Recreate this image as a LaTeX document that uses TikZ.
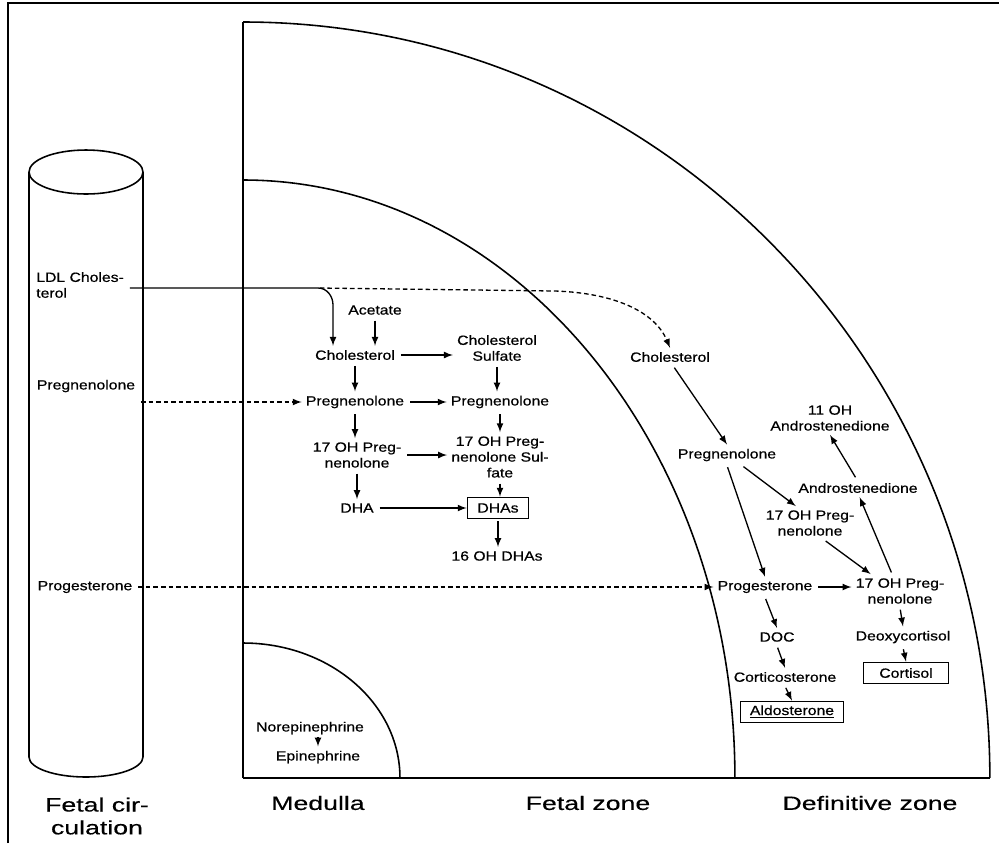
\documentclass[tikz,border=0pt]{standalone}
\usepackage{fontspec}
\setmainfont{Liberation Sans}
\newfontfamily\lblfont[FakeStretch=1.18,FakeBold=0.6]{Liberation Sans}
\newfontfamily\zonefont[FakeStretch=1.38,FakeBold=0.4]{Liberation Sans}
\usetikzlibrary{arrows}

\tikzset{
  lbl/.style={font=\lblfont\fontsize{7.6}{9}\selectfont, align=center, inner sep=2pt},
  prod/.style={lbl, draw, line width=1pt, minimum height=0.42cm},
  zone/.style={font=\zonefont\fontsize{11}{13}\selectfont, align=center},
  arr/.style={->, >=latex, line width=0.75pt, shorten <=1pt},
  darr/.style={arr, dash pattern=on 2.6pt off 1.7pt},
}

\begin{document}
\begin{tikzpicture}[x=0.02cm, y=-0.02cm, line width=0.9pt]
          \useasboundingbox (0,0) rectangle (999,843);
          \draw[line width=1.2pt] (8,843) -- (8,3) -- (999,3);
          % fetal circulation
          \draw (86,172) ellipse [x radius=1.14cm, y radius=0.44cm];
          \draw (29,172) -- (29,757) arc [start angle=180, end angle=360, x radius=1.14cm, y radius=0.4cm] -- (143,172);
          % adrenal zones
          \draw[line width=1.7pt] (243,22) -- (243,778);
          \draw (243,778) -- (990,778);
          \draw (243,22) arc [start angle=90, end angle=0, x radius=14.94cm, y radius=15.12cm];
          \draw (243,180) arc [start angle=90, end angle=0, x radius=9.84cm, y radius=11.96cm];
          \draw (243,643) arc [start angle=90, end angle=0, x radius=3.14cm, y radius=2.7cm];
          \node[zone] (fcirc) at (97,816) {Fetal cir-\\culation};
          \node[zone] (medl)  at (318,803) {Medulla};
          \node[zone] (fzone) at (588,803) {Fetal zone};
          \node[zone] (dzone) at (870,803) {Definitive zone};
          % circulation
          \node[lbl, anchor=west, align=left] (ldl) at (32,285) {LDL Choles-\\terol};
          \node[lbl] (pregC) at (86,386) {Pregnenolone};
          \node[lbl] (progC) at (85,587) {Progesterone};
          % medulla
          \node[lbl] (norepi) at (310,728) {Norepinephrine};
          \node[lbl] (epi)    at (318,757) {Epinephrine};
          \draw[arr] (norepi.south -| epi) -- (epi.north);
          % fetal zone
          \node[lbl] (acet)  at (375,310) {Acetate};
          \node[lbl] (cholF) at (355,355) {Cholesterol};
          \node[lbl] (cholS) at (497,348) {Cholesterol\\Sulfate};
          \node[lbl] (pregF) at (355,402) {Pregnenolone};
          \node[lbl] (pregS) at (500,402) {Pregnenolone};
          \node[lbl] (ohF)   at (357,455) {17 OH Preg-\\nenolone};
          \node[lbl] (ohS)   at (500,457) {17 OH Preg-\\nenolone Sul-\\fate};
          \node[lbl] (dha)   at (357,508) {DHA};
          \node[prod, minimum width=1.22cm] (dhas) at (498,508) {DHAs};
          \node[lbl] (oh16)  at (497,556) {16 OH DHAs};
          \draw[arr] (acet) -- (acet |- cholF.north);
          \draw[arr] (cholF) -- (pregF);
          \draw[arr] (cholF.east) -- (cholS.west |- cholF.east);
          \draw[arr] (cholS) -- (cholS |- pregS.north);
          \draw[arr] (pregF) -- (pregS);
          \draw[arr] (pregF) -- (pregF |- ohF.north);
          \draw[arr] (pregS.south -| ohS) -- (ohS);
          \draw[arr] (ohF.east) -- (ohS.west |- ohF.east);
          \draw[arr] (ohF) -- (ohF |- dha.north);
          \draw[arr] (ohS) -- (ohS |- dhas.north);
          \draw[arr] (dha) -- (dhas);
          \draw[arr] (dhas) -- (dhas |- oh16.north);
          % definitive zone
          \node[lbl] (cholD) at (670,357) {Cholesterol};
          \node[lbl] (pregD) at (727,455) {Pregnenolone};
          \node[lbl] (oh11)  at (830,418) {11 OH\\Androstenedione};
          \node[lbl] (andro) at (858,488) {Androstenedione};
          \node[lbl] (ohD1)  at (810,523) {17 OH Preg-\\nenolone};
          \node[lbl] (progD) at (765,587) {Progesterone};
          \node[lbl] (ohD2)  at (900,591) {17 OH Preg-\\nenolone};
          \node[lbl] (doc)   at (777,637) {DOC};
          \node[lbl] (cortico) at (785,677) {Corticosterone};
          \node[prod, minimum width=2.06cm] (aldo) at (792,712) {\underline{Aldosterone}};
          \node[lbl] (deoxy) at (903,637) {Deoxycortisol};
          \node[prod, minimum width=1.7cm] (cortisol) at (906,673) {Cortisol};
          \draw[arr] (cholD.-70) -- (pregD.north);
          \draw[arr] (pregD.south) -- (progD.north);
          \draw[arr] (pregD.-35) -- (ohD1.130);
          \draw[arr] (ohD1.-50) -- (ohD2.150);
          \draw[arr] (ohD2.115) -- (andro.-80);
          \draw[arr] (andro.100) -- (oh11.south);
          \draw[arr] (progD.east) -- (ohD2.west |- progD.east);
          \draw[arr] (progD.south) -- (doc.north);
          \draw[arr] (doc.south) -- (cortico.north);
          \draw[arr] (cortico.south) -- (aldo.north);
          \draw[arr] (ohD2.south) -- (deoxy.north);
          \draw[arr] (deoxy.south) -- (cortisol.north);
          % supply from the circulation
          \coordinate (ldlsplit) at (318,288);
          \coordinate (ldlbend) at (333,305);
          \draw[arr] (ldl.east |- ldlsplit) -- (ldlsplit) to[out=0,in=90] (ldlbend) -- (ldlbend |- cholF.north);
          \draw[darr] (ldlsplit) -- (555,291) .. controls (615,293) and (655,312) .. (cholD.north);
          \draw[darr] (pregC.east |- pregF) -- (pregF.west);
          \draw[darr] (progC.east) -- (progD.west);
        \end{tikzpicture}
\end{document}
